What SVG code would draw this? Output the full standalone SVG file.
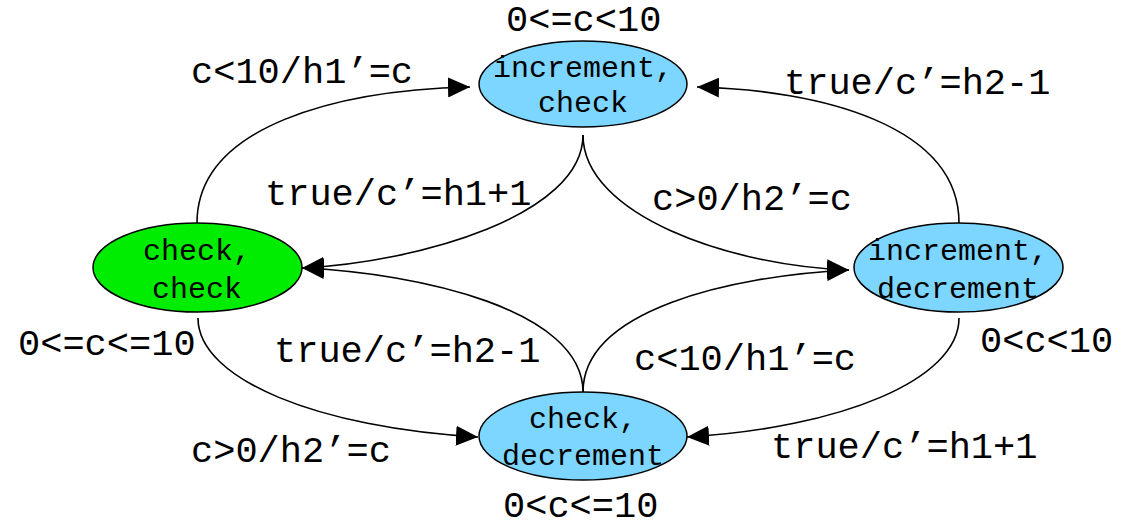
<svg xmlns="http://www.w3.org/2000/svg" width="1127" height="529" viewBox="0 0 1127 529">
  <style>
    .state { stroke: #000; stroke-width: 1.5; }
    .blue { fill: #7dd6ff; }
    .green { fill: #00ec00; }
    .name { font-family: "Liberation Mono", "Courier New", monospace; font-size: 30px; fill: #000; text-anchor: middle; }
    .lbl { font-family: "Liberation Mono", "Courier New", monospace; font-size: 37px; fill: #000; }
    .edge { fill: none; stroke: #000; stroke-width: 1.6; marker-end: url(#head); }
  </style>
  <defs>
    <marker id="head" markerUnits="userSpaceOnUse" markerWidth="22" markerHeight="20" refX="22" refY="10" orient="auto" viewBox="0 0 22 20">
      <path d="M0,0 L22,10 L0,20 z" fill="#000"/>
    </marker>
  </defs>
  <rect width="1127" height="529" fill="#fff"/>

  <!-- transitions -->
  <g id="connectors">
    <path class="edge" d="M197,223 C197,125 340,90 470,87"/>
    <path class="edge" d="M583,135 C583,215 420,262 302,268"/>
    <path class="edge" d="M583,135 C583,215 730,266 849,270"/>
    <path class="edge" d="M959,223 C959,125 820,90 697,87"/>
    <path class="edge" d="M583,392 C583,310 420,273 302,268"/>
    <path class="edge" d="M583,392 C583,310 730,276 849,270"/>
    <path class="edge" d="M198,318 C198,380 320,428 478,437"/>
    <path class="edge" d="M959,318 C959,380 840,428 687,437"/>
  </g>

  <!-- transition labels -->
  <g id="labels">
    <text class="lbl" x="191" y="83">c&lt;10/h1’=c</text>
    <text class="lbl" x="784" y="94">true/c’=h2-1</text>
    <text class="lbl" x="265" y="205">true/c’=h1+1</text>
    <text class="lbl" x="652" y="210">c&gt;0/h2’=c</text>
    <text class="lbl" x="274" y="362">true/c’=h2-1</text>
    <text class="lbl" x="634" y="370">c&lt;10/h1’=c</text>
    <text class="lbl" x="191" y="462">c&gt;0/h2’=c</text>
    <text class="lbl" x="771" y="458">true/c’=h1+1</text>
  </g>

  <g id="s-inc-check">
    <ellipse class="state blue" cx="583" cy="84" rx="104" ry="43"/>
    <text class="name" x="583" y="77">increment,</text>
    <text class="name" x="583" y="112">check</text>
    <text class="lbl" x="506" y="31">0&lt;=c&lt;10</text>
  </g>

  <g id="s-check-check">
    <ellipse class="state green" cx="197.5" cy="267.5" rx="104.5" ry="44.5"/>
    <text class="name" x="197" y="260">check,</text>
    <text class="name" x="197" y="298">check</text>
    <text class="lbl" x="18" y="355">0&lt;=c&lt;=10</text>
  </g>

  <g id="s-inc-dec">
    <ellipse class="state blue" cx="958.5" cy="267.5" rx="104.5" ry="44.5"/>
    <text class="name" x="958" y="260">increment,</text>
    <text class="name" x="958" y="298">decrement</text>
    <text class="lbl" x="980" y="352">0&lt;c&lt;10</text>
  </g>

  <g id="s-check-dec">
    <ellipse class="state blue" cx="583" cy="436" rx="104" ry="44"/>
    <text class="name" x="583" y="428">check,</text>
    <text class="name" x="583" y="465">decrement</text>
    <text class="lbl" x="503" y="517">0&lt;c&lt;=10</text>
  </g>
</svg>
